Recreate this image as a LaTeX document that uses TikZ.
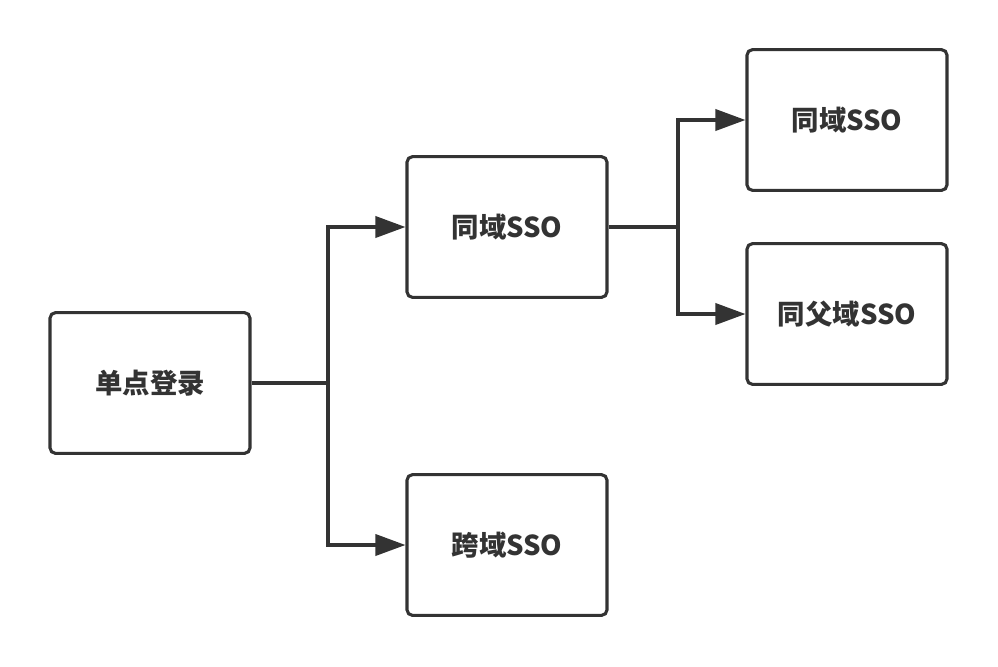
\documentclass[tikz,border=0pt]{standalone}
\usepackage{fontspec}
\newfontfamily\cjk{Noto Sans CJK SC}
\usetikzlibrary{arrows.meta}
\definecolor{ink}{HTML}{333333}
\begin{document}
\begin{tikzpicture}[
	x=0.025cm, y=-0.025cm,
	box/.style={
		rectangle,
		rounded corners=4pt,
		draw=ink,
		line width=2.2pt,
		minimum width=5cm,
		minimum height=3.52cm,
		align=center,
		text=ink,
		font=\cjk\bfseries\fontsize{19.5}{23}\selectfont
	},
	arrow/.style={-{Triangle[length=0.75cm,width=0.53cm]}, line width=2.2pt, draw=ink},
	link/.style={line width=2.2pt, draw=ink}
]
\useasboundingbox (0,0) rectangle (998,666);

% Nodos
\node[box] (sso) at (150,383) {单点登录};
\node[box] (same) at (507,227) {同域SSO};
\node[box] (cross) at (507,545) {跨域SSO};
\node[box] (samesub) at (847,120) {同域SSO};
\node[box] (parent) at (847,314) {同父域SSO};

% Puntos de bifurcación
\coordinate (fork1) at (328,383);
\coordinate (fork2) at (678,227);

% Conexiones
\draw[link] (sso.east) -- (fork1);
\draw[arrow] (fork1) |- (same.west);
\draw[arrow] (fork1) |- (cross.west);
\draw[link] (same.east) -- (fork2);
\draw[arrow] (fork2) |- (samesub.west);
\draw[arrow] (fork2) |- (parent.west);

\end{tikzpicture}
\end{document}
